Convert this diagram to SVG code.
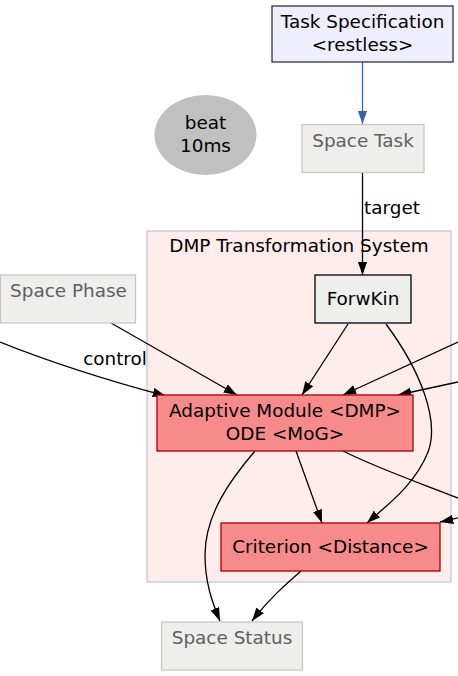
<svg xmlns="http://www.w3.org/2000/svg" width="458" height="676" viewBox="0 0 458 676">
<defs>
<marker id="ah" viewBox="0 0 10 7" refX="10" refY="3.5" markerWidth="13.3" markerHeight="9.3" markerUnits="userSpaceOnUse" orient="auto">
<path d="M0,0 L10,3.5 L0,7 Z" fill="#000"/>
</marker>
<marker id="ahb" viewBox="0 0 10 7" refX="10" refY="3.5" markerWidth="13.3" markerHeight="9.3" markerUnits="userSpaceOnUse" orient="auto">
<path d="M0,0 L10,3.5 L0,7 Z" fill="#3465a4"/>
</marker>
<style>
text{font-family:"DejaVu Sans",sans-serif;font-size:18.4px;text-anchor:middle;fill:#000}
.port rect{fill:#eeeeec;stroke:#c8c8c8;stroke-width:1.3}
.port text{fill:#606060}
.comp rect{fill:#f78a8a;stroke:#a40000;stroke-width:1.3}
.e{fill:none;stroke:#000;stroke-width:1.3;marker-end:url(#ah)}
</style>
</defs>
<rect width="458" height="676" fill="#fff"/>
<g id="cluster_dmp">
<rect x="147" y="231" width="304" height="351" fill="#ffeceb" stroke="#c8c8c8" stroke-width="1.3"/>
<text x="299" y="252">DMP Transformation System</text>
</g>
<g id="connectors">
<path d="M362.5,62 L362.5,124" fill="none" stroke="#3465a4" stroke-width="1.3" marker-end="url(#ahb)"/>
<path class="e" d="M362.5,172 L362.5,275"/>
<text x="364" y="214" style="text-anchor:start">target</text>
<path class="e" d="M0,342 C50,362 110,381 166,396"/>
<text x="115" y="365">control</text>
<path class="e" d="M111,323 L237,395"/>
<path class="e" d="M348,324 L302,395"/>
<path class="e" d="M458,342 L343,395"/>
<path class="e" d="M458,382 L398,395"/>
<path class="e" d="M386,324 C420,370 440,420 428,452 C415,485 387,505 367,523"/>
<path class="e" d="M255,451 C230,480 205,515 205,555 C205,582 212,602 220,621"/>
<path class="e" d="M296,451 L322,523"/>
<path class="e" d="M343,451 C385,472 440,490 470,503 C485,510 470,516 440,522"/>
<path class="e" d="M301,571 C285,585 268,600 252,621"/>
</g>
<g id="task_spec">
<rect x="272" y="6" width="181" height="56" fill="#eeeeff" stroke="#333" stroke-width="1.3"/>
<text x="362.5" y="28">Task Specification</text>
<text x="362.5" y="51">&lt;restless&gt;</text>
</g>
<g id="beat">
<ellipse cx="205.5" cy="135" rx="51" ry="40" fill="#c0c0c0"/>
<text x="205.5" y="129">beat</text>
<text x="205.5" y="152">10ms</text>
</g>
<g id="space_task" class="port">
<rect x="302" y="124.5" width="122" height="48"/>
<text x="363" y="147">Space Task</text>
</g>
<g id="space_phase" class="port">
<rect x="0.5" y="275" width="135" height="48"/>
<text x="68.5" y="297">Space Phase</text>
</g>
<g id="forwkin">
<rect x="315" y="275" width="96" height="48" fill="#eeeeec" stroke="#000" stroke-width="1.3"/>
<text x="363" y="305">ForwKin</text>
</g>
<g id="adaptive" class="comp">
<rect x="157" y="395" width="256" height="56"/>
<text x="285" y="417">Adaptive Module &lt;DMP&gt;</text>
<text x="285" y="440">ODE &lt;MoG&gt;</text>
</g>
<g id="criterion" class="comp">
<rect x="221" y="523" width="219" height="48"/>
<text x="330.5" y="553">Criterion &lt;Distance&gt;</text>
</g>
<g id="space_status" class="port">
<rect x="161.5" y="622" width="141" height="48"/>
<text x="232" y="644">Space Status</text>
</g>
</svg>
